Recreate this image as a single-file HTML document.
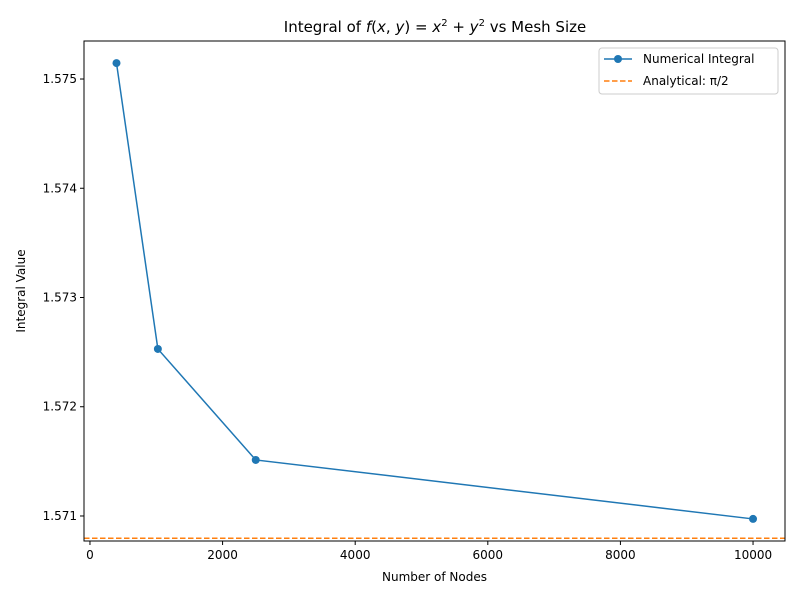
<!DOCTYPE html>
<html><head><meta charset="utf-8"><style>
body{margin:0;background:#fff;font-family:"Liberation Sans","DejaVu Sans",sans-serif;}
svg text{font-family:"DejaVu Sans","Liberation Sans",sans-serif;}
</style></head><body>
<svg id="chart" width="800" height="600" xmlns="http://www.w3.org/2000/svg"></svg>
<script>
const nodes = [400, 1024, 2500, 10000];
const integralValues = [1.575146, 1.572529, 1.571513, 1.570973];
const analyticalValue = Math.PI/2;
const xTicks = [0, 2000, 4000, 6000, 8000, 10000];
const yTicks = [1.571, 1.572, 1.573, 1.574, 1.575];
const yTickLabels = ["1.571","1.572","1.573","1.574","1.575"];

const L=84,R=785,T=41,B=541;
const xMin=-90,xMax=10482,yMin=1.570771,yMax=1.575348;
const sx=v=>L+(v-xMin)/(xMax-xMin)*(R-L);
const sy=v=>B-(v-yMin)/(yMax-yMin)*(B-T);
const svg=document.getElementById('chart');
const NS='http://www.w3.org/2000/svg';
function mk(tag,attrs,parent){const e=document.createElementNS(NS,tag);for(const k in attrs)e.setAttribute(k,attrs[k]);(parent||svg).appendChild(e);return e;}

const title=mk('text',{x:435,y:32,'text-anchor':'middle','font-size':15});


title.innerHTML='Integral of <tspan font-style="italic">f</tspan>(<tspan font-style="italic">x</tspan>, <tspan font-style="italic">y</tspan>) = <tspan font-style="italic">x</tspan><tspan font-size="10" dy="-6">2</tspan><tspan dy="6"> + </tspan><tspan font-style="italic">y</tspan><tspan font-size="10" dy="-6">2</tspan><tspan dy="6"> vs Mesh Size</tspan>';

xTicks.forEach(t=>{const x=sx(t);
 const tk=mk('line',{x1:x,x2:x,y1:B,y2:B+4,stroke:'#000'});
 
 
 const lb=mk('text',{x:x,y:B+18,'text-anchor':'middle','font-size':12});
 
 
 lb.textContent=t;});
yTicks.forEach((t,i)=>{const y=sy(t);
 const tk=mk('line',{x1:L-4,x2:L,y1:y,y2:y,stroke:'#000'});
 
 
 const lb=mk('text',{x:L-7,y:y+4,'text-anchor':'end','font-size':12});
 
 
 lb.textContent=yTickLabels[i];});

const xl=mk('text',{x:(L+R)/2,y:581,'text-anchor':'middle','font-size':12});


xl.textContent='Number of Nodes';
const yl=mk('text',{x:25,y:(T+B)/2,'text-anchor':'middle','font-size':12,transform:`rotate(-90 25 ${(T+B)/2})`});


yl.textContent='Integral Value';

const ref=mk('line',{x1:L,x2:R,y1:sy(analyticalValue),y2:sy(analyticalValue),stroke:'#ff7f0e','stroke-width':1.5,'stroke-dasharray':'5.5,2.5'});



const line=mk('polyline',{points:nodes.map((n,i)=>sx(n)+','+sy(integralValues[i])).join(' '),fill:'none',stroke:'#1f77b4','stroke-width':1.5});


nodes.forEach((n,i)=>{const c=mk('circle',{cx:sx(n),cy:sy(integralValues[i]),r:4,fill:'#1f77b4'});
 
 });

const frame=mk('rect',{x:L,y:T,width:R-L,height:B-T,fill:'none',stroke:'#000','stroke-width':1});



const lg=mk('g',{});


mk('rect',{x:599,y:48,width:179,height:46,rx:3,fill:'#fff',stroke:'#ccc'},lg);
mk('line',{x1:604,x2:632,y1:59,y2:59,stroke:'#1f77b4','stroke-width':1.5},lg);
mk('circle',{cx:618,cy:59,r:4,fill:'#1f77b4'},lg);
const l1=mk('text',{x:643,y:63,'font-size':12},lg);


l1.textContent='Numerical Integral';
mk('line',{x1:604,x2:632,y1:81,y2:81,stroke:'#ff7f0e','stroke-width':1.5,'stroke-dasharray':'5.5,2.5'},lg);
const l2=mk('text',{x:643,y:85,'font-size':12},lg);


l2.textContent='Analytical: π/2';
</script>
</body></html>
